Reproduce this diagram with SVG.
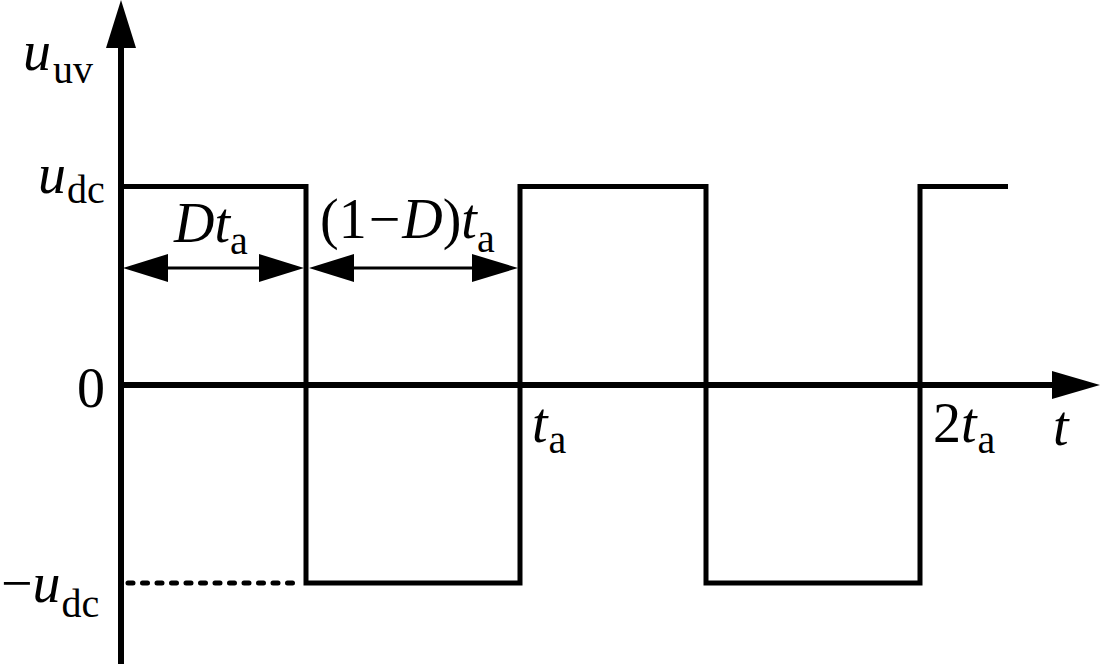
<svg xmlns="http://www.w3.org/2000/svg" width="1102" height="668" viewBox="0 0 1102 668">
<style>
.t{font-family:"Liberation Serif","Times New Roman",serif;font-size:56px;fill:#000}
.i{font-style:italic}
.s{font-size:40px;font-style:normal}
.ax{stroke:#000;stroke-width:6;fill:none}
.wave{stroke:#000;stroke-width:5;fill:none;stroke-linejoin:miter}
.dim{stroke:#000;stroke-width:3;fill:none}
</style>
<rect width="1102" height="668" fill="#fff"/>
<g id="connectors">
  <line class="ax" x1="121" y1="40" x2="121" y2="664"/>
  <polygon points="121,0 106,48 136,48" fill="#000"/>
  <line class="ax" x1="121" y1="385" x2="1055" y2="385"/>
  <polygon points="1100,385 1052,371 1052,399" fill="#000"/>
  <polyline class="wave" points="121,186.5 306,186.5 306,583 520,583 520,186.5 706,186.5 706,583 920,583 920,186.5 1008,186.5"/>
  <line x1="128" y1="583" x2="302" y2="583" stroke="#000" stroke-width="5" stroke-dasharray="5 9.5" stroke-linecap="round"/>
  <line class="dim" x1="160" y1="268" x2="268" y2="268"/>
  <polygon points="123,268 168,254 168,282" fill="#000"/>
  <polygon points="304,268 259,254 259,282" fill="#000"/>
  <line class="dim" x1="350" y1="268" x2="478" y2="268"/>
  <polygon points="309,268 354,254 354,282" fill="#000"/>
  <polygon points="518,268 472,254 472,282" fill="#000"/>
</g>
<g id="label-uuv"><text class="t" x="23" y="70"><tspan class="i">u</tspan><tspan class="s" dx="2" dy="13">uv</tspan></text></g>
<g id="label-udc"><text class="t" x="38" y="193"><tspan class="i">u</tspan><tspan class="s" dx="1" dy="10">dc</tspan></text></g>
<g id="label-0"><text class="t" x="77" y="407">0</text></g>
<g id="label-mudc"><text class="t" x="1" y="602">−<tspan class="i">u</tspan><tspan class="s" dx="1" dy="15">dc</tspan></text></g>
<g id="label-Dta"><text class="t" x="174" y="242"><tspan class="i">Dt</tspan><tspan class="s" dy="12">a</tspan></text></g>
<g id="label-1mDta"><text class="t" x="320" y="238">(1<tspan dx="2">−</tspan><tspan class="i" dx="2">D</tspan>)<tspan class="i">t</tspan><tspan class="s" dy="14">a</tspan></text></g>
<g id="label-ta"><text class="t" x="532" y="442"><tspan class="i">t</tspan><tspan class="s" dx="1" dy="11">a</tspan></text></g>
<g id="label-2ta"><text class="t" x="933" y="442">2<tspan class="i">t</tspan><tspan class="s" dx="1" dy="11">a</tspan></text></g>
<g id="label-t"><text class="t i" x="1053" y="445">t</text></g>
</svg>
